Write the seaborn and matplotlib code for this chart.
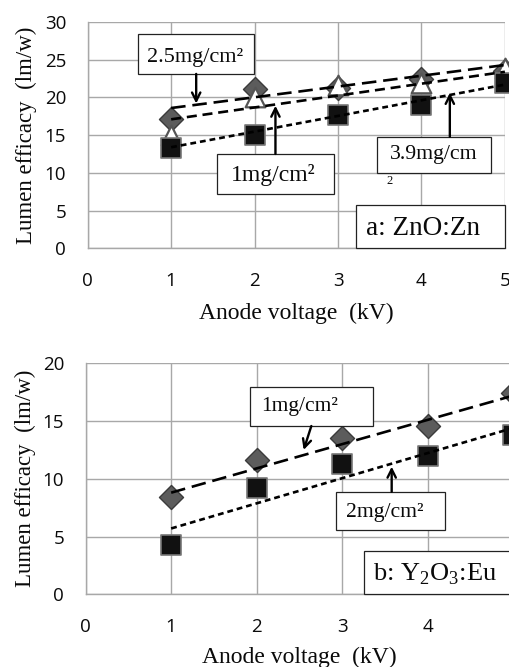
import matplotlib
matplotlib.use("Agg")
import matplotlib.pyplot as plt
from matplotlib.patches import Rectangle
import seaborn as sns
import pandas as pd

# ---------------- data ----------------
voltage = [1, 2, 3, 4, 5]

# panel a: ZnO:Zn
zno_diamond = [17.2, 21.1, 21.3, 22.5, 23.5]
zno_triangle = [15.0, 20.1, 21.7, 21.9, 23.9]
zno_square = [13.3, 15.0, 17.7, 19.0, 21.9]
trend_x = [1, 5]
zno_trend_long = [18.6, 24.3]
zno_trend_mid = [17.1, 23.4]
zno_trend_short = [13.4, 21.7]

# panel b: Y2O3:Eu
yo_diamond = [8.45, 11.6, 13.5, 14.6, 17.4]
yo_square = [4.27, 9.2, 11.3, 12.0, 13.8]
yo_trend_long = [8.8, 17.2]
yo_trend_short = [5.7, 14.4]

x_ticks = [0, 1, 2, 3, 4, 5]
ya_ticks = [0, 5, 10, 15, 20, 25, 30]
yb_ticks = [0, 5, 10, 15, 20]

xlabel = "Anode voltage  (kV)"
ylabel = "Lumen efficacy  (lm/w)"

# ---------------- style ----------------
sns.set_theme(style="white")
plt.rcParams["font.family"] = ["Open Sans", "DejaVu Sans"]
plt.rcParams["mathtext.fontset"] = "custom"
plt.rcParams["mathtext.rm"] = "Liberation Serif"
SERIF = ["Liberation Serif", "DejaVu Serif"]
GRID = "#a8a8a8"
INK = "#0a0a0a"

fig = plt.figure(figsize=(5.10, 6.67), dpi=100)
ax_a = fig.add_axes([0.172, 0.6277, 0.818, 0.3393])
ax_b = fig.add_axes([0.168, 0.1090, 0.838, 0.3463])


def style_axes(ax, yticks, xpad, ylab_x):
    ax.set_xlim(0, 5)
    ax.set_ylim(yticks[0], yticks[-1])
    ax.set_xticks(x_ticks)
    ax.set_yticks(yticks)
    ax.grid(True, color=GRID, lw=1.0)
    ax.set_axisbelow(True)
    for s in ["top", "right"]:
        ax.spines[s].set_visible(False)
    for s in ["left", "bottom"]:
        ax.spines[s].set_color(GRID)
        ax.spines[s].set_linewidth(1.0)
    ax.tick_params(axis="both", direction="out", length=6.5, width=1.0,
                   color=GRID, labelsize=13.5, labelcolor=INK)
    ax.tick_params(axis="y", pad=9)
    ax.tick_params(axis="x", pad=10.5)
    ax.set_xlabel(xlabel, fontsize=17, family=SERIF, color=INK, labelpad=xpad)
    ax.set_ylabel(ylabel, fontsize=16.5, family=SERIF, color=INK)
    ax.yaxis.set_label_coords(ylab_x, 0.5)


def line(ax, ys, dashes):
    df = pd.DataFrame({"x": trend_x, "y": ys})
    sns.lineplot(data=df, x="x", y="y", ax=ax, color="black", lw=1.9,
                 zorder=4).lines[-1].set_dashes(dashes)


def pts(ax, ys, marker, size, face, edge, lw=1.0, z=3):
    df = pd.DataFrame({"x": voltage, "y": ys})
    sns.scatterplot(data=df, x="x", y="y", ax=ax, marker=marker, s=size,
                    color=face, edgecolor=edge, linewidth=lw, zorder=z,
                    clip_on=False, legend=False)


def box(ax, x0, x1, y0, y1, txt, fs=15, tx=None, ty=None, ha="center"):
    ax.add_patch(Rectangle((x0, y0), x1 - x0, y1 - y0, fc="white", ec="#222222",
                           lw=0.9, zorder=5, clip_on=False))
    tx = (x0 + x1) / 2 if tx is None else tx
    ty = (y0 + y1) / 2 if ty is None else ty
    ax.text(tx, ty, txt, fontsize=fs, family=SERIF, ha=ha, va="center",
            color=INK, zorder=6)


def arrow(ax, x0, y0, x1, y1):
    ax.annotate("", xy=(x1, y1), xytext=(x0, y0), zorder=7,
                arrowprops=dict(arrowstyle="->", color="black", lw=1.7,
                                mutation_scale=15, shrinkA=0, shrinkB=0))


# ---------------- panel a ----------------
style_axes(ax_a, ya_ticks, xpad=9, ylab_x=-0.122)
pts(ax_a, zno_diamond, "D", 150, "#5c5c5c", "#3a3a3a", z=3)
pts(ax_a, zno_triangle, "^", 200, "white", "#555555", lw=1.6, z=3.2)
pts(ax_a, zno_square, "s", 190, "#111111", "#777777", lw=1.2, z=3.4)
line(ax_a, zno_trend_long, (5.5, 2.6))
line(ax_a, zno_trend_mid, (3.8, 2.2))
line(ax_a, zno_trend_short, (2.2, 1.5))

box(ax_a, 0.601, 1.990, 23.12, 28.38, "2.5mg/cm²", fs=16, tx=1.29, ty=25.3)
arrow(ax_a, 1.30, 23.12, 1.30, 19.2)
box(ax_a, 1.544, 2.949, 7.20, 12.51, "1mg/cm²", fs=17, tx=2.22, ty=9.7)
arrow(ax_a, 2.25, 12.51, 2.25, 18.9)
box(ax_a, 3.472, 4.837, 9.95, 14.80, "3.9mg/cm", fs=15.7, tx=4.15, ty=12.4)
ax_a.text(3.62, 8.9, "2", fontsize=9, family=SERIF, ha="center", va="center",
          color=INK, zorder=6)
arrow(ax_a, 4.34, 14.80, 4.34, 20.6)
box(ax_a, 3.22, 5.0, 0.0, 5.74, "a: ZnO:Zn", fs=19.5, tx=3.34, ty=2.6, ha="left")

# ---------------- panel b ----------------
style_axes(ax_b, yb_ticks, xpad=8, ylab_x=-0.1165)
pts(ax_b, yo_diamond, "D", 150, "#5c5c5c", "#3a3a3a", z=3)
pts(ax_b, yo_square, "s", 190, "#111111", "#777777", lw=1.2, z=3.4)
line(ax_b, yo_trend_long, (5.5, 2.6))
line(ax_b, yo_trend_short, (2.2, 1.5))

box(ax_b, 1.920, 3.359, 14.57, 17.97, "1mg/cm²", fs=15.5, tx=2.50, ty=16.3)
arrow(ax_b, 2.64, 14.57, 2.55, 12.5)
box(ax_b, 2.934, 4.201, 5.57, 8.88, "2mg/cm²", fs=15.6, tx=3.50, ty=7.1)
arrow(ax_b, 3.58, 8.88, 3.58, 11.05)
box(ax_b, 3.254, 5.1, 0.0, 3.77, r"b: Y$_\mathregular{2}$O$_\mathregular{3}$:Eu",
    fs=19, tx=3.36, ty=1.75, ha="left")

fig.savefig("out.png", dpi=100)
